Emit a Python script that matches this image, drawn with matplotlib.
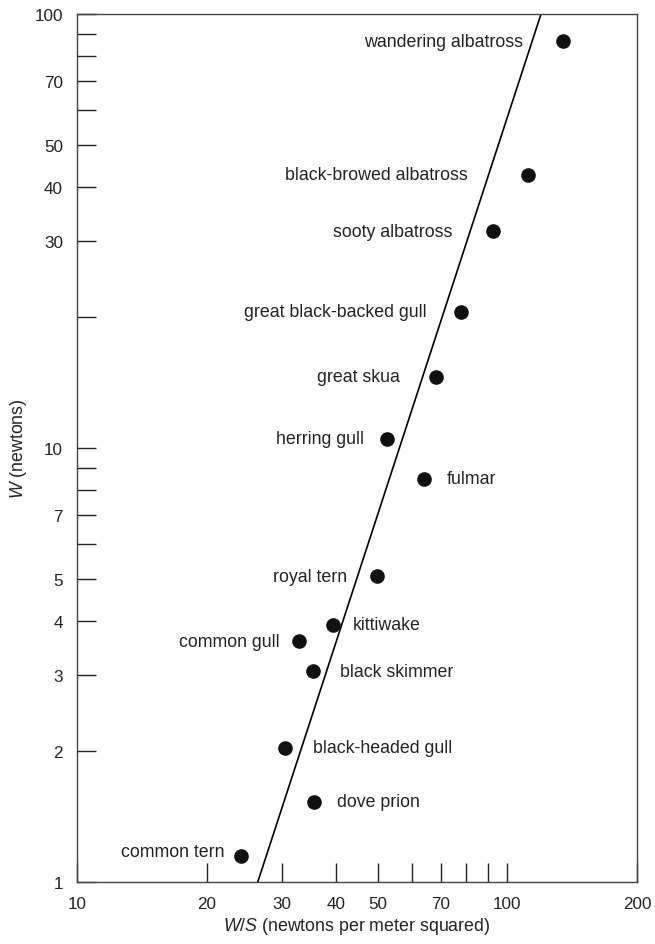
import numpy as np
import matplotlib
matplotlib.use("Agg")
import matplotlib.pyplot as plt
from matplotlib.ticker import FixedLocator, FixedFormatter, NullLocator

plt.rcParams['font.family'] = ['Liberation Sans', 'DejaVu Sans']
plt.rcParams['mathtext.fontset'] = 'custom'
plt.rcParams['mathtext.it'] = 'Liberation Sans:italic'
plt.rcParams['mathtext.rm'] = 'Liberation Sans'

# birds: wing loading W/S (N/m^2) and weight W (N)
birds = ["wandering albatross", "black-browed albatross", "sooty albatross",
         "great black-backed gull", "great skua", "herring gull", "fulmar",
         "royal tern", "kittiwake", "common gull", "black skimmer",
         "black-headed gull", "dove prion", "common tern"]
wing_loading = [134.6, 111.7, 92.6, 78.0, 68.2, 52.5, 64.0,
                49.8, 39.4, 32.8, 35.3, 30.4, 35.6, 24.0]
weight = [86.6, 42.6, 31.6, 20.6, 14.6, 10.5, 8.5,
          5.07, 3.91, 3.59, 3.06, 2.04, 1.53, 1.15]

# fitted line end points
line_x = [26.3, 119.7]
line_y = [1, 100]

x_ticks = [10, 20, 30, 40, 50, 60, 70, 80, 90, 100, 200]
x_labels = ["10", "20", "30", "40", "50", "", "70", "", "", "100", "200"]
y_ticks = [1, 2, 3, 4, 5, 6, 7, 8, 9, 10, 20, 30, 40, 50, 60, 70, 80, 90, 100]
y_labels = ["1", "2", "3", "4", "5", "", "7", "", "", "10", "", "30", "40",
            "50", "", "70", "", "", "100"]

# label offsets in pixels (dx, dy); negative dx puts label left of the dot
offsets = {
    "wandering albatross": (-40, 0), "black-browed albatross": (-60, 0),
    "sooty albatross": (-41, 0), "great black-backed gull": (-34, 0),
    "great skua": (-36, 0), "herring gull": (-23, 0), "fulmar": (23, 0),
    "royal tern": (-30, 0), "kittiwake": (19, 0), "common gull": (-19, 0),
    "black skimmer": (27, 0), "black-headed gull": (28, 0),
    "dove prion": (23, 0), "common tern": (-16, 4),
}

fig = plt.figure(figsize=(6.55, 9.45), dpi=100)
ax = fig.add_axes([77/655, 62/945, 560/655, 868/945])
ax.set_xscale("log")
ax.set_yscale("log")
ax.set_xlim(10, 200)
ax.set_ylim(1, 100)

ax.plot(line_x, line_y, color="black", lw=1.2, zorder=2)
ax.plot(wing_loading, weight, "o", color="#111111", markersize=9.5, zorder=3)

for name, xv, yv in zip(birds, wing_loading, weight):
    dx, dy = offsets[name]
    ax.annotate(name, (xv, yv), xytext=(dx, dy), textcoords="offset pixels",
                ha="right" if dx < 0 else "left", va="center",
                fontsize=12.8, color="#222222")

ax.xaxis.set_major_locator(FixedLocator(x_ticks))
ax.xaxis.set_major_formatter(FixedFormatter(x_labels))
ax.xaxis.set_minor_locator(NullLocator())
ax.yaxis.set_major_locator(FixedLocator(y_ticks))
ax.yaxis.set_major_formatter(FixedFormatter(y_labels))
ax.yaxis.set_minor_locator(NullLocator())
ax.tick_params(direction="in", length=14, width=1, colors="#222222",
               labelsize=12.3, pad=10)

for s in ax.spines.values():
    s.set_color("#444444")
    s.set_linewidth(1)

ax.set_xlabel(r"$\it{W/S}$ (newtons per meter squared)", fontsize=12.8,
              color="#222222", labelpad=3)
ax.set_ylabel(r"$\it{W}$ (newtons)", fontsize=12.8, color="#222222",
              labelpad=4)

fig.savefig("out.png", dpi=100)
